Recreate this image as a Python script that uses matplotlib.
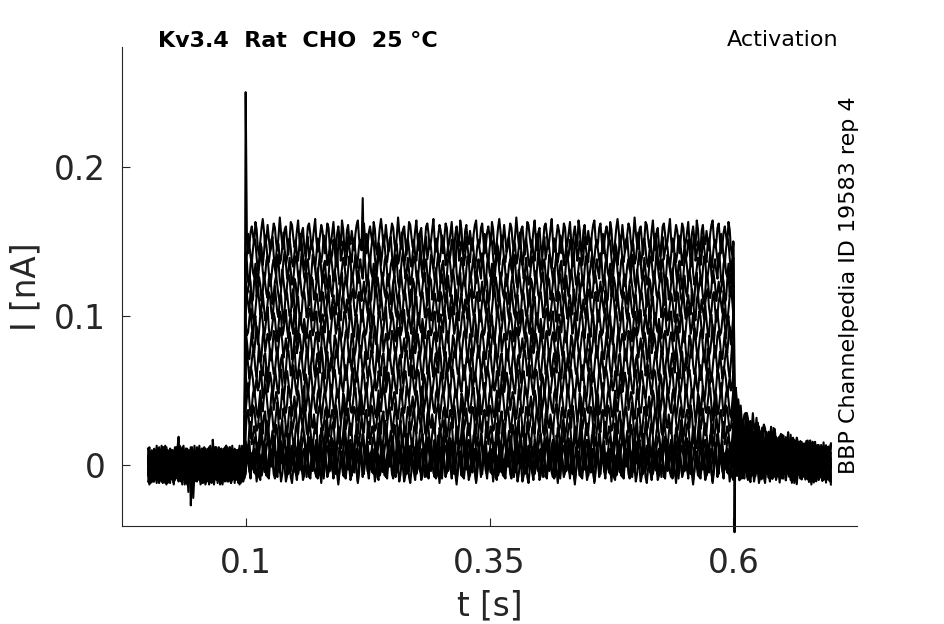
import numpy as np
import matplotlib
matplotlib.use("Agg")
import matplotlib.pyplot as plt

# sampling of the sweeps (s)
dt = 0.00125
t_start, t_on, t_off, t_end = 0.0, 0.1, 0.6, 0.7

# steady-state current of each activation sweep during the step (nA)
sweep_levels = [0.0, 0.001, 0.004, 0.010, 0.019, 0.030, 0.042, 0.055,
                0.068, 0.081, 0.094, 0.107, 0.119, 0.131, 0.143, 0.153]
# tail current right after the step, per sweep (nA)
tail_peaks = [0.0, 0.0, 0.001, 0.003, 0.005, 0.008, 0.011, 0.015,
              0.018, 0.022, 0.025, 0.029, 0.032, 0.035, 0.039, 0.042]
# tail shape after t_off, one value per sample (fraction of tail peak)
tail_shape = [1.00, 0.95, 0.90, 0.85, 0.80, 0.76, 0.72, 0.68,
              0.66, 0.64, 0.62, 0.60, 0.58, 0.56, 0.54, 0.52,
              0.51, 0.49, 0.48, 0.47, 0.45, 0.44, 0.43, 0.42,
              0.41, 0.40, 0.39, 0.38, 0.37, 0.36, 0.35, 0.34,
              0.33, 0.32, 0.31, 0.31, 0.30, 0.29, 0.28, 0.27,
              0.27, 0.26, 0.25, 0.25, 0.24, 0.23, 0.23, 0.22,
              0.21, 0.21, 0.20, 0.19, 0.19, 0.18, 0.17, 0.17,
              0.16, 0.16, 0.15, 0.15, 0.14, 0.14, 0.13, 0.13,
              0.12, 0.12, 0.11, 0.11, 0.10, 0.10, 0.10, 0.09,
              0.09, 0.09, 0.08, 0.08, 0.08, 0.07, 0.07, 0.07]
# recording ripple (pA), reused per sweep
ripple_pA = [4, -3, -9, 2, 8, 11, -1, -7, -4, 6,
             9, -2, -11, -6, 3, 7, 1, -5, 10, 5,
             -8, -12, -3, 6, 12, 4, -6, -2, 8, -1,
             -10, -7, 2, 9, 6, -4, -9, 1, 13, 3,
             -5, -8, 5, 7, -3, -12, -2, 10, 8, 0,
             -7, -5, 4, 11, -1, -9, 3, 6, -6, -13,
             -4, 7, 9, 2, -8, -3, 5, 12, -2, -10,
             -6, 1, 8, 4, -5, -11, 0, 9, 6, -7,
             -4, 3, 10, -3, -9, 2, 7, -1, -6, 11,
             5, -8, -10, 4, 8, -2, -5]
# where each sweep starts reading the ripple, and reading direction
ripple_start = [0, 37, 12, 71, 5, 58, 23, 89, 44, 16, 66, 31, 80, 9, 52, 27]
ripple_dir = [1, -1, 1, 1, -1, 1, -1, -1, 1, -1, 1, 1, -1, 1, -1, 1]
# artefacts: (sweep index, time s, current nA)
artefacts = [(15, 0.100, 0.250), (14, 0.220, 0.179), (15, 0.601, -0.045),
             (0, 0.044, -0.027), (1, 0.046, -0.022), (2, 0.041, -0.018),
             (9, 0.031, 0.019), (5, 0.066, 0.017)]

x_ticks = [0.1, 0.35, 0.6]
y_ticks = [0, 0.1, 0.2]

t = np.round(np.arange(t_start, t_end + dt / 2, dt), 5)
n = len(t)
ripple = np.array(ripple_pA) / 1000.0
post = t > t_off + 1e-9

traces = []
for k, lev in enumerate(sweep_levels):
    base = np.zeros(n)
    base[(t >= t_on - 1e-9) & (t <= t_off + 1e-9)] = lev
    base[post] = tail_peaks[k] * np.array(tail_shape)
    idx = (ripple_start[k] + ripple_dir[k] * np.arange(n)) % len(ripple)
    traces.append(base + ripple[idx])
for k, ta, val in artefacts:
    traces[k][np.argmin(np.abs(t - ta))] = val

fig = plt.figure(figsize=(9.45, 6.24), dpi=100)
ax = fig.add_axes([0.1291, 0.1571, 0.7778, 0.7676])

for y in traces:
    ax.plot(t, y, color='black', lw=1.5, clip_on=False)

ax.set_xlim(-0.0268, 0.7268)
ax.set_ylim(-0.0408, 0.2803)
ax.set_xticks(x_ticks)
ax.set_xticklabels(['0.1', '0.35', '0.6'])
ax.set_yticks(y_ticks)
ax.set_yticklabels(['0', '0.1', '0.2'])

for s in ['top', 'right']:
    ax.spines[s].set_visible(False)
for s in ['left', 'bottom']:
    ax.spines[s].set_color('#262626')
    ax.spines[s].set_linewidth(0.8)
ax.tick_params(direction='in', length=5.8, width=0.8, colors='#262626',
               labelsize=23.5)
ax.tick_params(axis='x', pad=15.5)
ax.tick_params(axis='y', pad=12)
ax.set_xlabel('t [s]', fontsize=23.5, color='#262626', labelpad=6.5)
ax.set_ylabel('I [nA]', fontsize=23.5, color='#262626', labelpad=8)

fig.text(0.1672, 0.9242, 'Kv3.4  Rat  CHO  25 °C', fontsize=16,
         fontweight='bold', ha='left', va='baseline')
fig.text(0.8868, 0.9263, 'Activation', fontsize=16, ha='right',
         va='baseline')
fig.text(0.8984, 0.2404, 'BBP Channelpedia ID 19583 rep 4', fontsize=16,
         rotation=90, ha='center', va='bottom')

fig.savefig('out.png', dpi=100)
